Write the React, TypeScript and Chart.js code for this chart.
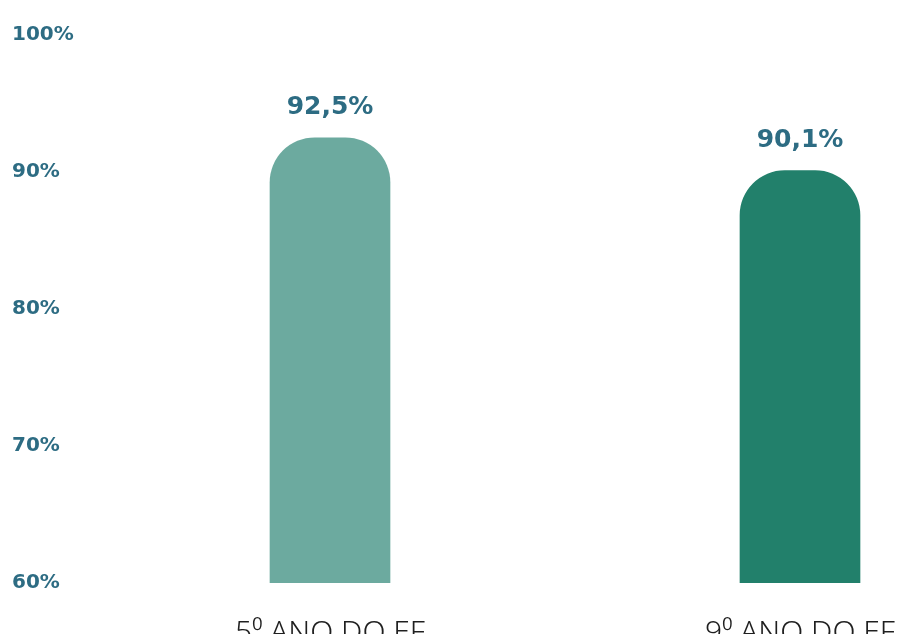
import React, { useEffect, useRef } from "react";
import { Chart, registerables } from "chart.js";

Chart.register(...registerables);

const categories = ["5⁰ ANO DO EF", "9⁰ ANO DO EF"];
const positions = [1, 2];
const values = [92.5, 90.1];
const valueLabels = ["92,5%", "90,1%"];
const barColors = ["#6caa9f", "#22806b"];
const yTicks = [60, 70, 80, 90, 100];

const LABEL_BLUE = "#2d6c83";

const valueLabelPlugin = {
  id: "valueLabels",
  afterDatasetsDraw(chart: any) {
    const ctx = chart.ctx;
    const meta = chart.getDatasetMeta(0);
    ctx.save();
    ctx.font = "bold 25px 'DejaVu Sans'";
    ctx.fillStyle = LABEL_BLUE;
    ctx.textAlign = "center";
    ctx.textBaseline = "middle";
    meta.data.forEach((el: any, i: number) => {
      ctx.fillText(valueLabels[i], el.x, el.y - 30);
    });
    ctx.restore();
  },
};

export default function App() {
  const ref = useRef<HTMLCanvasElement>(null);
  useEffect(() => {
    document.body.style.margin = "0";
    document.body.style.overflow = "hidden";
    const chart = new Chart(ref.current!, {
      type: "bar",
      data: {
        datasets: [
          {
            data: positions.map((p, i) => ({ x: p, y: values[i] })),
            backgroundColor: barColors,
            barThickness: 120,
            borderRadius: { topLeft: 45, topRight: 45, bottomLeft: 0, bottomRight: 0 },
            borderSkipped: false,
          },
        ],
      },
      options: {
        animation: false,
        responsive: false,
        maintainAspectRatio: false,
        layout: { padding: { left: 12, top: 35, right: 0, bottom: 0 } },
        plugins: { legend: { display: false }, tooltip: { enabled: false }, title: { display: false } },
        scales: {
          x: {
            type: "linear",
            offset: false,
            min: 0.4787,
            max: 2.2064,
            grid: { display: false, offset: false },
            border: { display: false },
            afterBuildTicks: (scale: any) => {
              scale.ticks = positions.map((p) => ({ value: p }));
            },
            afterFit: (scale: any) => {
              scale.height = 51;
              scale.paddingLeft = 0;
              scale.paddingRight = 0;
            },
            ticks: {
              autoSkip: false,
              maxRotation: 0,
              padding: 24,
              color: "#1f1f1f",
              font: { family: "'Noto Sans'", size: 30, weight: "300" },
              callback: (v: any) => {
                const i = positions.indexOf(Number(v));
                return i >= 0 ? categories[i] : "";
              },
            },
          },
          y: {
            min: 60,
            max: 100,
            grid: { display: false },
            border: { display: false },
            afterBuildTicks: (scale: any) => {
              scale.ticks = yTicks.map((v) => ({ value: v }));
            },
            afterFit: (scale: any) => {
              scale.width = 73;
              scale.paddingTop = 0;
              scale.paddingBottom = 0;
            },
            ticks: {
              crossAlign: "far",
              color: LABEL_BLUE,
              font: { family: "'DejaVu Sans'", size: 20, weight: "bold" },
              callback: (v: any) => v + "%",
            },
          },
        },
      },
      plugins: [valueLabelPlugin],
    });
    return () => chart.destroy();
  }, []);
  return (
    <div style={{ width: 897, height: 634 }}>
      <canvas ref={ref} width={897} height={634} style={{ display: "block" }} />
    </div>
  );
}
